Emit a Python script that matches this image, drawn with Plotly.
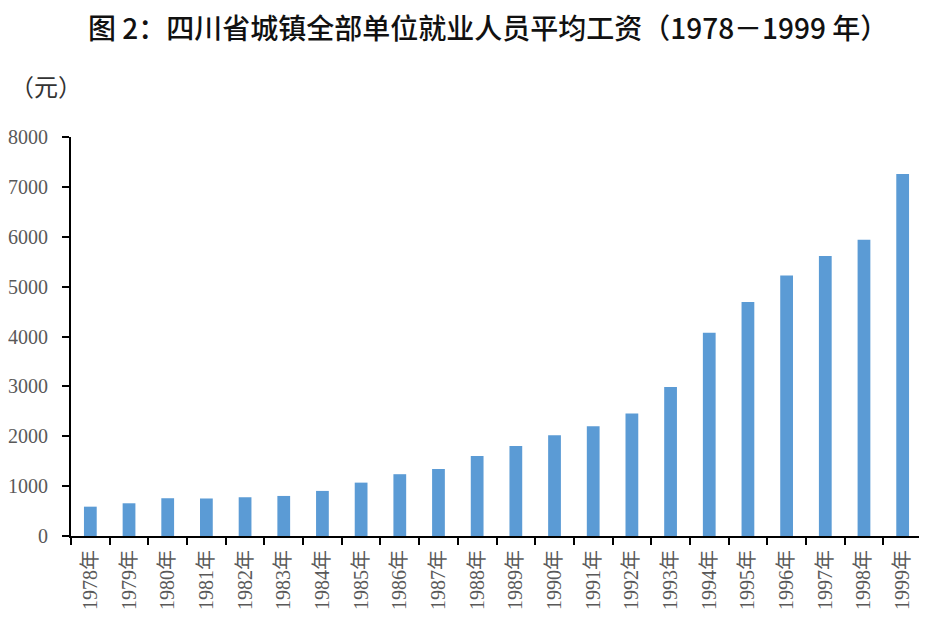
import plotly.graph_objects as go

years = ["1978年", "1979年", "1980年", "1981年", "1982年", "1983年", "1984年", "1985年",
         "1986年", "1987年", "1988年", "1989年", "1990年", "1991年", "1992年", "1993年",
         "1994年", "1995年", "1996年", "1997年", "1998年", "1999年"]
wages = [588, 656, 757, 752, 777, 803, 904, 1070, 1239, 1345, 1606, 1807, 2022, 2203,
         2456, 2986, 4076, 4693, 5221, 5616, 5938, 7257]
y_ticks = [0, 1000, 2000, 3000, 4000, 5000, 6000, 7000, 8000]

title_text = "图 2：四川省城镇全部单位就业人员平均工资（1978－1999 年）"
unit_text = "（元）"

fig = go.Figure()
fig.add_trace(go.Bar(x=years, y=wages, marker=dict(color="#5B9BD5", line=dict(width=0)),
                     width=0.33))

fig.update_layout(
    width=927, height=618,
    margin=dict(l=63, r=13, t=129, b=90),
    paper_bgcolor="white", plot_bgcolor="white",
    showlegend=False,
    annotations=[
        dict(text=title_text, xref="paper", yref="paper", x=0.49, y=1.276,
             xanchor="center", yanchor="middle", showarrow=False,
             font=dict(family="Noto Sans CJK SC", size=28, color="#111111", weight=500)),
        dict(text=unit_text, xref="paper", yref="paper", x=-0.074, y=1.128,
             xanchor="left", yanchor="middle", showarrow=False,
             font=dict(family="Noto Sans CJK SC", size=24, color="#333333")),
    ],
    bargap=0.67,
)
fig.update_xaxes(
    type="category", showline=True, linecolor="black", linewidth=2,
    ticks="outside", ticklen=7, tickwidth=2, tickcolor="black", tickson="boundaries",
    tickangle=-90, ticklabelstandoff=4, automargin=False,
    tickfont=dict(family="Liberation Serif, Noto Sans CJK SC", size=20, color="#595959"),
    showgrid=False,
)
fig.update_yaxes(
    range=[0, 8000], tickvals=y_ticks, showline=True, linecolor="black", linewidth=2,
    ticks="outside", ticklen=7, tickwidth=2, tickcolor="black", ticklabelstandoff=10,
    automargin=False,
    tickfont=dict(family="Liberation Serif", size=20, color="#595959"),
    showgrid=False, zeroline=False,
)

fig.write_html("out.html")
